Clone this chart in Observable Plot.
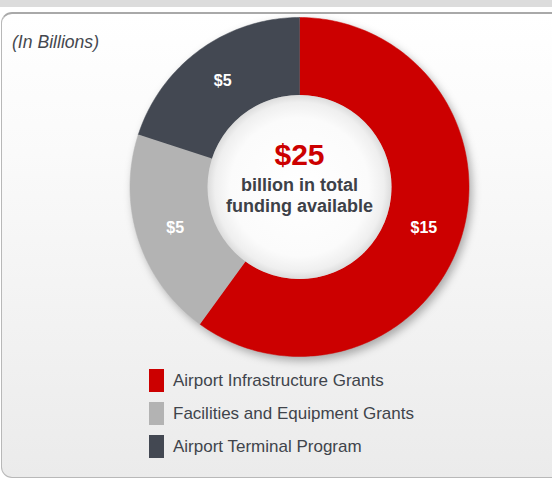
<!DOCTYPE html>
<html><head><meta charset="utf-8">
<script src="https://cdn.jsdelivr.net/npm/d3@7"></script>
<script src="https://cdn.jsdelivr.net/npm/@observablehq/plot@0.6"></script>
<style>
body{margin:0;width:552px;height:479px;overflow:hidden;background:#fff;font-family:"Liberation Sans",Arial,Helvetica,sans-serif;position:relative}
#band{position:absolute;left:0;top:0;width:552px;height:7px;background:#dcdcdc}
#box{position:absolute;left:1px;top:12px;width:562px;height:466px;border:1.5px solid #b8b8b8;border-top:2px solid #a9a9a9;border-radius:11px;background:linear-gradient(#ffffff 0%,#fafafa 30%,#ebebeb 100%);box-sizing:border-box}
#note{position:absolute;left:12px;top:32px;font-size:17.6px;font-style:italic;color:#45484f;line-height:20px}
#chart{position:absolute;left:0;top:0}
#legend{position:absolute;left:149px;top:369px}
.item{position:relative;height:23px;margin-bottom:10px}
.sw{position:absolute;left:0;top:0;width:15px;height:23px}
.lab{position:absolute;left:24px;top:0;line-height:23px;font-size:17px;color:#40444b;white-space:nowrap}
</style></head>
<body>
<div id="band"></div>
<div id="box"></div>
<div id="note"></div>
<div id="chart"></div>
<div id="legend"></div>
<script>
const categories = ["Airport Infrastructure Grants", "Facilities and Equipment Grants", "Airport Terminal Program"];
const values = [15, 5, 5];
const valueLabels = ["$15", "$5", "$5"];
const colors = ["#cc0000", "#b3b3b3", "#434852"];
const totalLabel = "$25";
const centerLines = ["billion in total", "funding available"];
const unitNote = "(In Billions)";

document.getElementById("note").textContent = unitNote;

const W = 552, H = 479, CX = 299, CY = 186.5, RPX = 169.5;
const R1 = 1, R0 = 92 / RPX;

const arcs = d3.pie().sort(null).startAngle(0).endAngle(2 * Math.PI)(values);
const pts = [];
arcs.forEach((s, i) => {
  const cat = categories[i];
  const n = Math.max(8, Math.ceil((s.endAngle - s.startAngle) / (Math.PI / 180)));
  for (let k = 0; k <= n; k++) {
    const a = s.startAngle + (s.endAngle - s.startAngle) * k / n;
    pts.push({cat, x: R1 * Math.sin(a), y: R1 * Math.cos(a)});
  }
  for (let k = n; k >= 0; k--) {
    const a = s.startAngle + (s.endAngle - s.startAngle) * k / n;
    pts.push({cat, x: R0 * Math.sin(a), y: R0 * Math.cos(a)});
  }
});
const labels = arcs.map((s, i) => {
  const m = (s.startAngle + s.endAngle) / 2, r = (R0 + R1) / 2;
  return {text: valueLabels[i], x: r * Math.sin(m), y: r * Math.cos(m)};
});

const svg = Plot.plot({
  width: W, height: H,
  margin: 0,
  style: {background: "transparent", overflow: "visible"},
  x: {domain: [-CX / RPX, (W - CX) / RPX], axis: null},
  y: {domain: [(CY - H) / RPX, CY / RPX], axis: null},
  color: {domain: categories, range: colors},
  marks: [
    Plot.line(pts, {x: "x", y: "y", z: "cat", fill: "cat", stroke: "cat", strokeWidth: 0.5, curve: "linear"}),
    Plot.dot([0], {x: d => 0, y: d => 0, r: 92, fill: "url(#holeGrad)", stroke: "none"}),
    Plot.text(labels, {x: "x", y: "y", text: "text", fill: "white", fontSize: 16, fontWeight: "bold", fontFamily: "Liberation Sans, Arial, sans-serif"}),
    Plot.text([totalLabel], {x: d => 0, y: d => 0, text: d => d, dy: -32, fill: "#cc0000", fontSize: 30, fontWeight: "bold", fontFamily: "Liberation Sans, Arial, sans-serif"}),
    Plot.text([centerLines.join("\n")], {x: d => 0, y: d => 0, text: d => d, dy: 8, lineHeight: 1.17, fill: "#3d4148", fontSize: 18, fontWeight: "bold", fontFamily: "Liberation Sans, Arial, sans-serif"})
  ]
});

const defs = d3.select(svg).insert("defs", ":first-child");
const g = defs.append("radialGradient").attr("id", "holeGrad");
g.append("stop").attr("offset", "0%").attr("stop-color", "#ffffff");
g.append("stop").attr("offset", "75%").attr("stop-color", "#fbfbfb");
g.append("stop").attr("offset", "92%").attr("stop-color", "#efefef");
g.append("stop").attr("offset", "100%").attr("stop-color", "#dcdcdc");
d3.select(svg).select('g[aria-label="line"]').style("filter", "drop-shadow(3px 4px 4px rgba(0,0,0,0.3))");

document.getElementById("chart").appendChild(svg);

const legend = d3.select("#legend");
categories.forEach((c, i) => {
  const it = legend.append("div").attr("class", "item");
  it.append("div").attr("class", "sw").style("background", colors[i]);
  it.append("div").attr("class", "lab").text(c);
});
</script>
</body></html>
